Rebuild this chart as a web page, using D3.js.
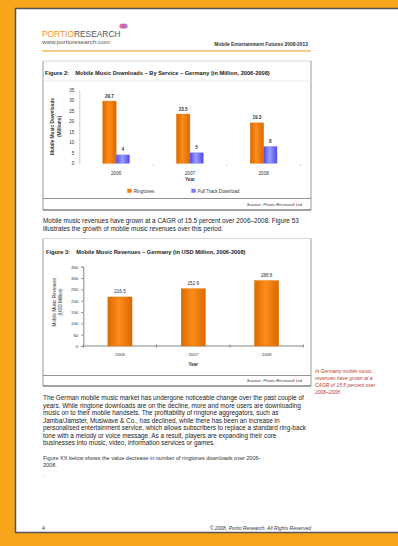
<!DOCTYPE html>
<html>
<head>
<meta charset="utf-8">
<script src="https://cdn.jsdelivr.net/npm/d3@7"></script>
<style>
  html, body { margin: 0; padding: 0; background: #f9a51b; }
  svg { display: block; }
  text { font-family: "Liberation Sans", Arial, sans-serif; }
</style>
</head>
<body>
<svg id="page" width="398" height="546"></svg>
<script>
// ---- data ----
const downloadYears = ["2006", "2007", "2008"];
const downloadSeries = ["Ringtones", "Full Track Download"];
const ringtoneDownloads = [29.7, 23.5, 19.3];
const fullTrackDownloads = [4, 5, 8];
const downloadTicks = [0, 5, 10, 15, 20, 25, 30, 35];

const revenueYears = ["2006", "2007", "2008"];
const revenues = [216.5, 252.9, 288.8];
const revenueTicks = [0, 50, 100, 150, 200, 250, 300, 350];

const bodyLines = [
  "The German mobile music market has undergone noticeable change over the past couple of",
  "years. While ringtone downloads are on the decline, more and more users are downloading",
  "music on to their mobile handsets. The profitability of ringtone aggregators, such as",
  "Jamba/Jamster, Musiwave & Co., has declined, while there has been an increase in",
  "personalised entertainment service, which allows subscribers to replace a standard ring-back",
  "tone with a melody or voice message. As a result, players are expanding their core",
  "businesses into music, video, information services or games."
];
const introLines = [
  "Mobile music revenues have grown at a CAGR of 15.5 percent over 2006\u20132008. Figure 53",
  "illustrates the growth of mobile music revenues over this period."
];
const noteLines = [
  "Figure XX below shows the value decrease in number of ringtones downloads over 2006-",
  "2008."
];
const sideLines = [
  "In Germany mobile music",
  "revenues have grown at a",
  "CAGR of 15.5 percent over",
  "2006\u20132008."
];

const svg = d3.select("#page");
const defs = svg.append("defs");

// shaded bar fills: darker edges, lighter centre
function barGradient(id, edge, mid) {
  const g = defs.append("linearGradient").attr("id", id)
    .attr("x1", "0%").attr("x2", "100%").attr("y1", "0%").attr("y2", "0%");
  g.append("stop").attr("offset", "0%").attr("stop-color", edge);
  g.append("stop").attr("offset", "45%").attr("stop-color", mid);
  g.append("stop").attr("offset", "100%").attr("stop-color", edge);
}
barGradient("gOrange", "#d86a00", "#ff8c1a");
barGradient("gBlue", "#4a4ae8", "#9c9cff");

// ---- page sheet ----
svg.append("rect").attr("x", 15.5).attr("y", 8.5).attr("width", 400).attr("height", 524)
  .attr("fill", "#fff").attr("stroke", "#555").attr("stroke-width", 1.5);

// header
const logo = svg.append("text").attr("x", 42).attr("y", 37).attr("font-size", 8.4);
logo.append("tspan").attr("fill", "#f7941d").text("PORTIO");
logo.append("tspan").attr("fill", "#555").text("RESEARCH");
svg.append("circle").attr("cx", 122).attr("cy", 26).attr("r", 2.6).attr("fill", "#e94e77").attr("opacity", 0.8);
svg.append("circle").attr("cx", 125).attr("cy", 26).attr("r", 2.6).attr("fill", "#a05cc8").attr("opacity", 0.8);
svg.append("text").attr("x", 42).attr("y", 44).attr("font-size", 6.2).attr("fill", "#555")
  .text("www.portioresearch.com");
svg.append("text").attr("x", 308).attr("y", 45.5).attr("font-size", 4.9).attr("font-weight", "bold")
  .attr("text-anchor", "end").attr("fill", "#333").text("Mobile Entertainment Futures 2008-2013");
svg.append("line").attr("x1", 42).attr("x2", 311).attr("y1", 51).attr("y2", 51)
  .attr("stroke", "#f7941d").attr("stroke-width", 1);

// figure frames
function frame(top, sepY, bottom, srcLineY) {
  svg.append("line").attr("x1", 43).attr("x2", 43).attr("y1", top).attr("y2", bottom).attr("stroke", "#999").attr("stroke-width", 1);
  svg.append("line").attr("x1", 311).attr("x2", 311).attr("y1", top).attr("y2", bottom).attr("stroke", "#999").attr("stroke-width", 1);
  svg.append("line").attr("x1", 43).attr("x2", 311).attr("y1", top).attr("y2", top).attr("stroke", "#ccc").attr("stroke-width", 0.8);
  svg.append("line").attr("x1", 43).attr("x2", 311).attr("y1", bottom).attr("y2", bottom).attr("stroke", "#444").attr("stroke-width", 1.2);
  if (sepY) svg.append("line").attr("x1", 43).attr("x2", 311).attr("y1", sepY).attr("y2", sepY).attr("stroke", "#e4e4e4").attr("stroke-width", 0.8);
  svg.append("line").attr("x1", 43).attr("x2", 311).attr("y1", srcLineY).attr("y2", srcLineY).attr("stroke", "#777").attr("stroke-width", 0.8);
}

// ---- Figure 2: downloads by service ----
frame(61, 81, 210, 198.5);
svg.append("text").attr("x", 45).attr("y", 74.5).attr("font-size", 5.7).attr("font-weight", "bold").attr("fill", "#222")
  .attr("xml:space", "preserve")
  .text("Figure 2:    Mobile Music Downloads \u2013 By Service \u2013 Germany (in Million, 2006-2008)");

const x1 = d3.scaleBand().domain(downloadYears).range([79.3, 300.5]).padding(0);
const xs1 = d3.scaleBand().domain(downloadSeries).range([-13.4, 13.4]).padding(0);
const y1 = d3.scaleLinear().domain([0, 35]).range([163.3, 90]);

const ax1 = svg.append("g").attr("transform", "translate(79.3,0)")
  .call(d3.axisLeft(y1).tickValues(downloadTicks).tickSize(0).tickPadding(5));
ax1.select(".domain").attr("stroke", "#ccc");
ax1.selectAll("text").attr("font-size", 4.6).attr("fill", "#333").attr("font-family", "Liberation Sans, Arial");

const xa1 = svg.append("g").attr("transform", "translate(0,163.3)")
  .call(d3.axisBottom(x1).tickSize(0).tickPadding(8));
xa1.select(".domain").attr("stroke", "none");
xa1.selectAll("text").attr("font-size", 4.6).attr("fill", "#333").attr("font-family", "Liberation Sans, Arial");
// small tick marks between categories
svg.selectAll(".tdot").data(downloadYears).enter().append("rect")
  .attr("x", d => x1(d) + x1.bandwidth() - 0.5).attr("y", 164.5).attr("width", 1).attr("height", 1.2)
  .attr("fill", "#bbb");

const groups1 = [ringtoneDownloads, fullTrackDownloads];
const fills1 = ["url(#gOrange)", "url(#gBlue)"];
const fmt1 = [d3.format(".1f"), d3.format("d")];
groups1.forEach((vals, s) => {
  const ser = downloadSeries[s];
  svg.selectAll(".b" + s).data(vals).enter().append("rect")
    .attr("x", (d, i) => x1(downloadYears[i]) + x1.bandwidth() / 2 + xs1(ser))
    .attr("y", d => y1(d)).attr("width", xs1.bandwidth()).attr("height", d => y1(0) - y1(d))
    .attr("fill", fills1[s]).attr("stroke", s ? "#7b7bf0" : "#e07000").attr("stroke-width", 0.4);
  svg.selectAll(".l" + s).data(vals).enter().append("text")
    .attr("x", (d, i) => x1(downloadYears[i]) + x1.bandwidth() / 2 + xs1(ser) + xs1.bandwidth() / 2)
    .attr("y", d => y1(d) - 3.5).attr("text-anchor", "middle").attr("font-size", 4.6)
    .attr("font-weight", "bold").attr("fill", "#333").text(d => fmt1[s](d));
});

svg.append("text").attr("x", x1("2007") + x1.bandwidth() / 2).attr("y", 180.5).attr("text-anchor", "middle")
  .attr("font-size", 4.6).attr("font-weight", "bold").attr("fill", "#333").text("Year");
const yt1 = svg.append("text").attr("transform", "translate(54,126.5) rotate(-90)").attr("text-anchor", "middle")
  .attr("font-size", 4.8).attr("font-weight", "bold").attr("fill", "#333");
yt1.append("tspan").attr("x", 0).attr("dy", 0).text("Mobile Music Downloads");
yt1.append("tspan").attr("x", 0).attr("dy", 6.5).text("(Millions)");

// legend
const legX = [127.7, 191.7];
downloadSeries.forEach((s, i) => {
  svg.append("rect").attr("x", legX[i]).attr("y", 189).attr("width", 3.6).attr("height", 3.6)
    .attr("fill", fills1[i]).attr("stroke", i ? "#7b7bf0" : "#e07000").attr("stroke-width", 0.4);
  svg.append("text").attr("x", legX[i] + 6).attr("y", 192.6).attr("font-size", 4.6).attr("fill", "#333").text(s);
});
svg.append("text").attr("x", 302).attr("y", 205.5).attr("text-anchor", "end").attr("font-size", 4.4)
  .attr("font-style", "italic").attr("fill", "#333").text("Source: Portio Research Ltd");

// intro paragraph
introLines.forEach((t, i) => svg.append("text").attr("x", 43).attr("y", 222.5 + i * 8.5)
  .attr("font-size", 6.4).attr("fill", "#222").text(t));

// ---- Figure 3: revenues ----
frame(238.5, null, 386, 375.5);
svg.append("text").attr("x", 46).attr("y", 253.5).attr("font-size", 5.7).attr("font-weight", "bold").attr("fill", "#222")
  .attr("xml:space", "preserve")
  .text("Figure 3:    Mobile Music Revenues \u2013 Germany (in USD Million, 2006-2008)");

const x2 = d3.scaleBand().domain(revenueYears).range([83.3, 303.3]).paddingInner(0.67).paddingOuter(0.335);
const xb2 = d3.scaleBand().domain(revenueYears).range([83.3, 303.3]).padding(0);
const y2 = d3.scaleLinear().domain([0, 350]).range([346, 266.7]);

const ax2 = svg.append("g").attr("transform", "translate(83.3,0)")
  .call(d3.axisLeft(y2).tickValues(revenueTicks).tickSize(2).tickPadding(3));
ax2.selectAll("line,.domain").attr("stroke", "#888");
ax2.selectAll("text").attr("font-size", 4.4).attr("fill", "#333").attr("font-family", "Liberation Sans, Arial");

const xa2 = svg.append("g").attr("transform", "translate(0,346)");
xa2.append("line").attr("x1", 83.3).attr("x2", 303.3).attr("stroke", "#888").attr("stroke-width", 1);
xa2.selectAll(".tk").data([0, 1, 2, 3]).enter().append("line")
  .attr("x1", i => 83.3 + xb2.bandwidth() * i).attr("x2", i => 83.3 + xb2.bandwidth() * i)
  .attr("y1", -1.5).attr("y2", 1.5).attr("stroke", "#888");
xa2.selectAll(".xl").data(revenueYears).enter().append("text")
  .attr("x", d => xb2(d) + xb2.bandwidth() / 2).attr("y", 9.5).attr("text-anchor", "middle")
  .attr("font-size", 4.4).attr("fill", "#333").text(d => d);

svg.selectAll(".rb").data(revenues).enter().append("rect")
  .attr("x", (d, i) => x2(revenueYears[i])).attr("y", d => y2(d))
  .attr("width", x2.bandwidth()).attr("height", d => y2(0) - y2(d))
  .attr("fill", "url(#gOrange)").attr("stroke", "#e07000").attr("stroke-width", 0.4);
svg.selectAll(".rl").data(revenues).enter().append("text")
  .attr("x", (d, i) => x2(revenueYears[i]) + x2.bandwidth() / 2).attr("y", d => y2(d) - 3.5)
  .attr("text-anchor", "middle").attr("font-size", 4.6).attr("fill", "#333").text(d => d3.format(".1f")(d));

svg.append("text").attr("x", xb2("2007") + xb2.bandwidth() / 2).attr("y", 366).attr("text-anchor", "middle")
  .attr("font-size", 4.6).attr("font-weight", "bold").attr("fill", "#333").text("Year");
const yt2 = svg.append("text").attr("transform", "translate(56,302) rotate(-90)").attr("text-anchor", "middle")
  .attr("font-size", 4.6).attr("fill", "#333");
yt2.append("tspan").attr("x", 0).attr("dy", 0).text("Mobile Music Revenues");
yt2.append("tspan").attr("x", 0).attr("dy", 6).text("(USD Million)");
svg.append("text").attr("x", 302).attr("y", 381.5).attr("text-anchor", "end").attr("font-size", 4.4)
  .attr("font-style", "italic").attr("fill", "#333").text("Source: Portio Research Ltd");

// side note
sideLines.forEach((t, i) => svg.append("text").attr("x", 315).attr("y", 373 + i * 7)
  .attr("font-size", 5).attr("font-style", "italic").attr("fill", "#c0392b").text(t));

// body text
bodyLines.forEach((t, i) => svg.append("text").attr("x", 43).attr("y", 400 + i * 7.5)
  .attr("font-size", 6.4).attr("fill", "#222").text(t));
noteLines.forEach((t, i) => svg.append("text").attr("x", 43).attr("y", 460 + i * 7)
  .attr("font-size", 5.5).attr("fill", "#333").text(t));
svg.append("text").attr("x", 43).attr("y", 476).attr("font-size", 6).attr("fill", "#333").text(".");

// footer
svg.append("text").attr("x", 42).attr("y", 530).attr("font-size", 5).attr("fill", "#333").text("4");
svg.append("text").attr("x", 311).attr("y", 530).attr("text-anchor", "end").attr("font-size", 5)
  .attr("font-style", "italic").attr("fill", "#333").text("\u00a9 2008, Portio Research. All Rights Reserved");
</script>
</body>
</html>
